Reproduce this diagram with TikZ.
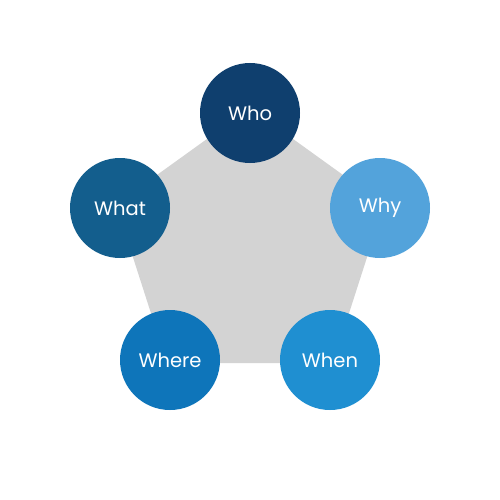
\documentclass[tikz,border=0pt]{standalone}
\usepackage{fontspec}
\setmainfont{Poppins}
\definecolor{cwho}{HTML}{0F3F6E}
\definecolor{cwhat}{HTML}{135E8D}
\definecolor{cwhy}{HTML}{53A3DB}
\definecolor{cwhere}{HTML}{0E75BA}
\definecolor{cwhen}{HTML}{1F8FD1}
\definecolor{cgray}{HTML}{D3D3D3}
\begin{document}
\begin{tikzpicture}[x=1pt,y=-1pt,
  bubble/.style={circle,minimum size=100pt,inner sep=0pt,text=white,font=\fontsize{19.5}{21}\selectfont}]
\useasboundingbox (0,0) rectangle (500,500);
\fill[white] (0,0) rectangle (500,500);
\path[fill=cgray] (250,108) -- (116,204.5) -- (167,363) -- (333,363) -- (384,204.5) -- cycle;
\node[bubble,fill=cwho] (who) at (250,113) {Who};
\node[bubble,fill=cwhat] (what) at (120,208) {What};
\node[bubble,fill=cwhy] (why) at (380,208) {Why};
\node[bubble,fill=cwhere] (where) at (170,360) {Where};
\node[bubble,fill=cwhen] (when) at (330,360) {When};
\end{tikzpicture}
\end{document}
